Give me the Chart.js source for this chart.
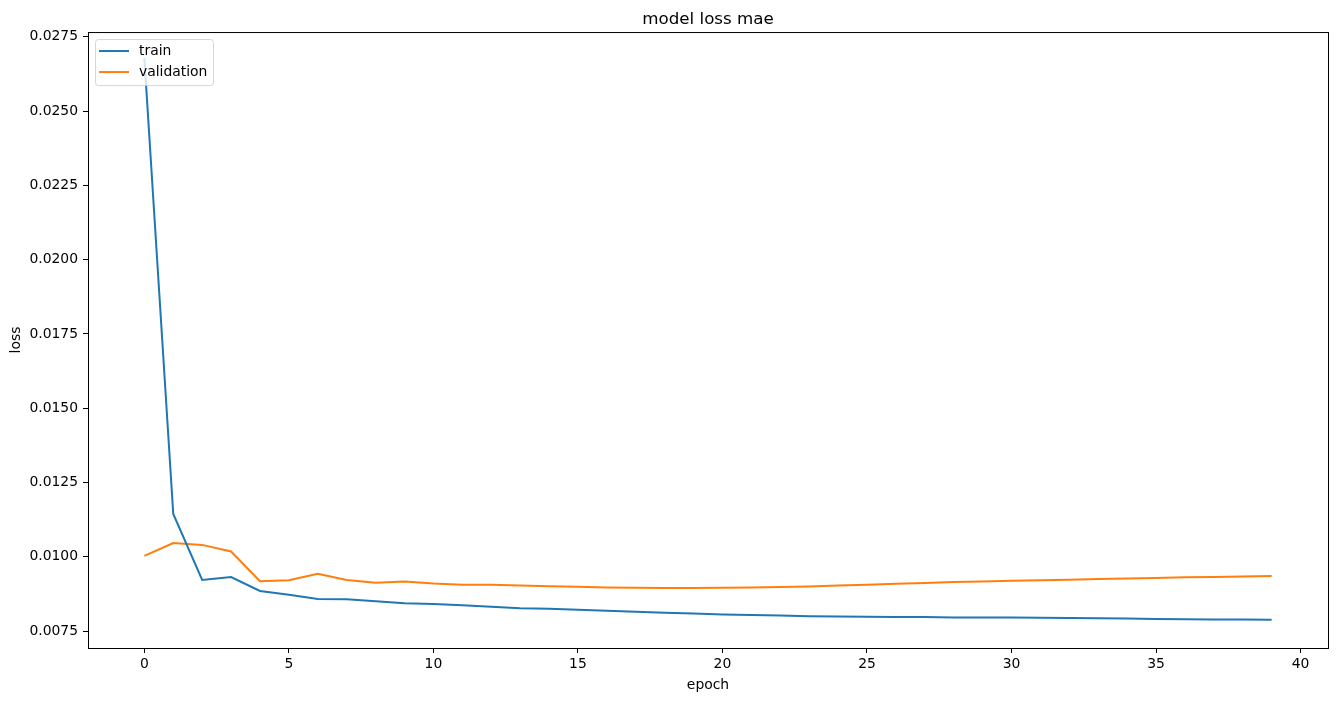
<!DOCTYPE html>
<html lang="en">
<head>
    <meta charset="UTF-8">
    <title>model loss mae</title>
    <script src="https://cdn.jsdelivr.net/npm/chart.js"></script>
    <style>
        html, body { margin: 0; padding: 0; background: #fff; }
        #wrap { width: 1337px; height: 701px; }
    </style>
</head>
<body>
    <div id="wrap"><canvas id="lossChart"></canvas></div>

    <script>
        // epochs and losses
        const epochs = Array.from({length: 40}, (_, i) => i);
        const trainLoss = [0.02678, 0.01144, 0.00922, 0.00932, 0.00885, 0.00872, 0.00858, 0.00857, 0.00850, 0.00844,
                           0.00841, 0.00837, 0.00832, 0.00827, 0.00825, 0.00822, 0.00818, 0.00815, 0.00812, 0.00809,
                           0.00806, 0.00804, 0.00802, 0.00800, 0.00799, 0.00798, 0.00797, 0.00797, 0.00796, 0.00796,
                           0.00796, 0.00795, 0.00794, 0.00793, 0.00792, 0.00791, 0.00790, 0.00789, 0.00789, 0.00788];
        const valLoss = [0.01003, 0.01046, 0.01040, 0.01018, 0.00918, 0.00921, 0.00943, 0.00922, 0.00913, 0.00917,
                         0.00910, 0.00906, 0.00906, 0.00903, 0.00901, 0.00899, 0.00897, 0.00896, 0.00895, 0.00895,
                         0.00896, 0.00897, 0.00898, 0.00900, 0.00903, 0.00906, 0.00909, 0.00912, 0.00915, 0.00917,
                         0.00919, 0.00921, 0.00923, 0.00925, 0.00927, 0.00929, 0.00931, 0.00932, 0.00934, 0.00935];
        const xTicks = [0, 5, 10, 15, 20, 25, 30, 35, 40];
        const yTicks = [0.0075, 0.0100, 0.0125, 0.0150, 0.0175, 0.0200, 0.0225, 0.0250, 0.0275];

        Chart.defaults.font.family = "'DejaVu Sans', sans-serif";
        Chart.defaults.color = '#000';

        // frame + matplotlib-like legend box
        const framePlugin = {
            id: 'frame',
            afterDraw(chart) {
                const {ctx, chartArea: a} = chart;
                ctx.save();
                ctx.strokeStyle = '#000';
                ctx.lineWidth = 1;
                ctx.strokeRect(a.left + 0.5, a.top + 0.5, a.right - a.left, a.bottom - a.top);

                // legend
                const x = a.left + 7, y = a.top + 7, w = 118, h = 46;
                ctx.fillStyle = 'rgba(255,255,255,0.8)';
                ctx.strokeStyle = 'rgba(204,204,204,0.8)';
                ctx.beginPath();
                ctx.roundRect(x + 0.5, y + 0.5, w, h, 3);
                ctx.fill();
                ctx.stroke();
                ctx.font = "13.9px 'DejaVu Sans'";
                ctx.textBaseline = 'middle';
                chart.data.datasets.forEach((ds, i) => {
                    const ly = y + 12 + i * 21;
                    ctx.strokeStyle = ds.borderColor;
                    ctx.lineWidth = 2;
                    ctx.beginPath();
                    ctx.moveTo(x + 4, ly);
                    ctx.lineTo(x + 34, ly);
                    ctx.stroke();
                    ctx.fillStyle = '#000';
                    ctx.fillText(ds.label, x + 44, ly);
                });
                ctx.restore();
            }
        };

        const ctx = document.getElementById('lossChart').getContext('2d');
        new Chart(ctx, {
            type: 'line',
            data: {
                datasets: [{
                    label: 'train',
                    data: epochs.map((e, i) => ({x: e, y: trainLoss[i]})),
                    borderColor: '#1f77b4',
                    borderWidth: 2,
                    pointRadius: 0,
                    tension: 0
                }, {
                    label: 'validation',
                    data: epochs.map((e, i) => ({x: e, y: valLoss[i]})),
                    borderColor: '#ff7f0e',
                    borderWidth: 2,
                    pointRadius: 0,
                    tension: 0
                }]
            },
            options: {
                responsive: true,
                maintainAspectRatio: false,
                animation: false,
                layout: { padding: { left: 0, right: 9, top: 0, bottom: 0 } },
                plugins: {
                    legend: { display: false },
                    tooltip: { enabled: false },
                    title: {
                        display: true,
                        fullSize: false,
                        text: 'model loss mae',
                        font: { size: 16.7, weight: 'normal' },
                        color: '#000',
                        padding: { top: 10, bottom: 2 }
                    }
                },
                scales: {
                    x: {
                        type: 'linear',
                        min: -1.95,
                        max: 40.95,
                        afterBuildTicks: s => { s.ticks = xTicks.map(v => ({value: v})); },
                        afterFit: s => { s.height = 53; },
                        ticks: { font: { size: 13.9 }, padding: 3, maxRotation: 0 },
                        grid: { drawOnChartArea: false, tickLength: 5, color: '#000' },
                        border: { color: '#000' },
                        title: { display: true, text: 'epoch', font: { size: 13.9 }, padding: { top: 0, bottom: 7 } }
                    },
                    y: {
                        min: 0.00693,
                        max: 0.02766,
                        afterBuildTicks: s => { s.ticks = yTicks.map(v => ({value: v})); },
                        afterFit: s => { s.width = 88; },
                        ticks: { font: { size: 13.9 }, padding: 5, callback: v => v.toFixed(4) },
                        grid: { drawOnChartArea: false, tickLength: 5, color: '#000' },
                        border: { color: '#000' },
                        title: { display: true, text: 'loss', font: { size: 13.9 }, padding: { top: 8, bottom: 0 } }
                    }
                }
            },
            plugins: [framePlugin]
        });
    </script>
</body>
</html>
